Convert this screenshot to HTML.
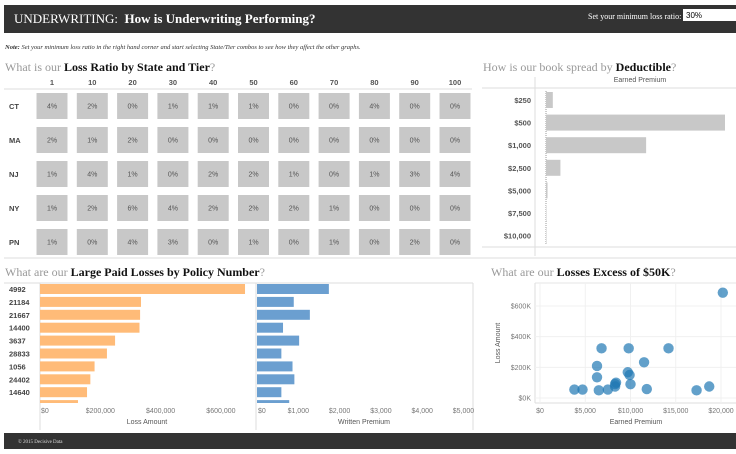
<!DOCTYPE html>
<html><head><meta charset="utf-8"><style>
html,body{margin:0;padding:0;background:#fff;width:736px;height:454px;overflow:hidden}
svg{display:block}
.sans{font-family:"Liberation Sans",sans-serif}
.serif{font-family:"Liberation Serif",serif}
</style></head><body>
<svg id="s" width="736" height="454" viewBox="0 0 736 454">
<rect x="4" y="5" width="732" height="28" fill="#333"/>
<text x="14" y="23" class="serif" font-size="13" fill="#fff">UNDERWRITING:&#160; <tspan font-weight="bold">How is Underwriting Performing?</tspan></text>
<text x="588" y="19" class="serif" font-size="8" fill="#fff">Set your minimum loss ratio:</text>
<rect x="683" y="9" width="53" height="12" fill="#fff"/>
<text x="686" y="18" class="sans" font-size="8" fill="#000">30%</text>
<text x="5" y="49" class="serif" font-size="6.5" font-style="italic" fill="#333"><tspan font-weight="bold">Note:</tspan> Set your minimum loss ratio in the right hand corner and start selecting State/Tier combos to see how they affect the other graphs.</text>
<text x="5" y="71" class="serif" font-size="12" fill="#999">What is our <tspan fill="#111" font-weight="bold">Loss Ratio by State and Tier</tspan>?</text>
<text x="483" y="71" class="serif" font-size="12" fill="#999">How is our book spread by <tspan fill="#111" font-weight="bold">Deductible</tspan>?</text>
<text x="5" y="276" class="serif" font-size="12" fill="#999">What are our <tspan fill="#111" font-weight="bold">Large Paid Losses by Policy Number</tspan>?</text>
<text x="491" y="276" class="serif" font-size="12" fill="#999">What are our <tspan fill="#111" font-weight="bold">Losses Excess of $50K</tspan>?</text>
<line x1="4" y1="258" x2="736" y2="258" stroke="#ddd"/>
<rect x="4" y="433" width="732" height="16" fill="#333"/>
<text x="18" y="443" class="serif" font-size="5" fill="#ddd">© 2015 Decisive Data</text>
<g id="heat"></g><g id="ded"></g><g id="loss"></g><g id="scat"></g>
</svg>
<script>
const NS='http://www.w3.org/2000/svg';
function mk(p,t,a,txt){const e=document.createElementNS(NS,t);for(const k in a)e.setAttribute(k,a[k]);if(txt!==undefined)e.textContent=txt;p.appendChild(e);return e;}
// heatmap data
const tiers=['1','10','20','30','40','50','60','70','80','90','100'];
const states=['CT','MA','NJ','NY','PN'];
const ratioCT=[4,2,0,1,1,1,0,0,4,0,0];
const ratioMA=[2,1,2,0,0,0,0,0,0,0,0];
const ratioNJ=[1,4,1,0,2,2,1,0,1,3,4];
const ratioNY=[1,2,6,4,2,2,2,1,0,0,0];
const ratioPN=[1,0,4,3,0,1,0,1,0,2,0];
// deductible data
const deductibles=['$250','$500','$1,000','$2,500','$5,000','$7,500','$10,000'];
const dedPremium=[45,1180,660,95,10,2,2];
// large losses data
const policies=['4992','21184','21667','14400','3637','28833','1056','24402','14640','10101'];
const lossAmt=[680000,335000,332000,330000,249000,222000,181000,167000,156000,126000];
const writtenPrem=[1740,890,1280,630,1020,590,860,905,590,780];
const lossTicks=[0,200000,400000,600000];
const lossTickLabels=['$0','$200,000','$400,000','$600,000'];
const premTicks=[0,1000,2000,3000,4000,5000];
const premTickLabels=['$0','$1,000','$2,000','$3,000','$4,000','$5,000'];
// scatter data
const scEarned=[20200,3800,4700,6500,7500,6300,6300,6800,8300,8400,8300,9800,9700,9900,10000,11500,11800,14200,17300,18700];
const scLoss=[687000,55000,55000,50000,55000,135000,209000,324000,91000,100000,75000,324000,168000,150000,90000,233000,58000,324000,50000,75000];
const scXTicks=[0,5000,10000,15000,20000];
const scXLabels=['$0','$5,000','$10,000','$15,000','$20,000'];
const scYTicks=[0,200000,400000,600000];
const scYLabels=['$0K','$200K','$400K','$600K'];

// heatmap
const H=document.getElementById('heat');
const rows=[ratioCT,ratioMA,ratioNJ,ratioNY,ratioPN];
const hx=i=>52+i*40.3, hy=j=>106+j*34;
mk(H,'line',{x1:4,y1:89,x2:472,y2:89,stroke:'#ddd',});
tiers.forEach((t,i)=>{const e=mk(H,'text',{x:hx(i),y:85,'text-anchor':'middle','font-size':7.5,'font-weight':'bold',fill:'#555',class:'sans'},t);

});
states.forEach((s,j)=>{const e=mk(H,'text',{x:9,y:hy(j)+3,'font-size':7.5,'font-weight':'bold',fill:'#444',class:'sans'},s);


rows[j].forEach((v,i)=>{const r=mk(H,'rect',{x:hx(i)-15.5,y:hy(j)-13,width:31,height:26,fill:'#c8c8c8'});


const tx=mk(H,'text',{x:hx(i),y:hy(j)+2.5,'text-anchor':'middle','font-size':7,fill:'#555',class:'sans'},v+'%');

});});

// deductible
const D=document.getElementById('ded');
const dx=v=>546+v*(179/1180), dy=j=>100+j*22.6;
mk(D,'text',{x:640,y:82,'text-anchor':'middle','font-size':7,fill:'#555',class:'sans',},'Earned Premium');
mk(D,'line',{x1:482,y1:88,x2:736,y2:88,stroke:'#ddd',});
mk(D,'line',{x1:482,y1:247,x2:736,y2:247,stroke:'#ddd',});
mk(D,'line',{x1:535,y1:77,x2:535,y2:256,stroke:'#ddd',});
mk(D,'line',{x1:546,y1:91,x2:546,y2:245,stroke:'#999','stroke-dasharray':'1,1',});
deductibles.forEach((d,j)=>{const t=mk(D,'text',{x:531,y:dy(j)+3,'text-anchor':'end','font-size':7.5,'font-weight':'bold',fill:'#555',class:'sans'},d);


const r=mk(D,'rect',{x:dx(0),y:dy(j)-8,width:Math.max(0.5,dx(dedPremium[j])-dx(0)),height:16,fill:'#c8c8c8'});

});

// large losses
const L=document.getElementById('loss');
const lx=v=>40+v*(60.3/200000), px=v=>257+v*(41.3/1000), ly=j=>289+j*12.9;
mk(L,'line',{x1:4,y1:283,x2:473,y2:283,stroke:'#ddd',});
mk(L,'line',{x1:40,y1:283,x2:40,y2:430,stroke:'#ddd',});
mk(L,'line',{x1:256,y1:283,x2:256,y2:430,stroke:'#ddd',});
mk(L,'line',{x1:473,y1:283,x2:473,y2:430,stroke:'#ddd',});
const clip=mk(L,'clipPath',{id:'lc'});mk(clip,'rect',{x:0,y:283,width:480,height:120});
const g=mk(L,'g',{'clip-path':'url(#lc)',});
policies.forEach((p,j)=>{const t=mk(g,'text',{x:9,y:ly(j)+3,'font-size':7.5,'font-weight':'bold',fill:'#444',class:'sans'},p);


const r=mk(g,'rect',{x:lx(0),y:ly(j)-5,width:lx(lossAmt[j])-lx(0),height:10,fill:'#ffbb78'});


const r2=mk(g,'rect',{x:px(0),y:ly(j)-5,width:px(writtenPrem[j])-px(0),height:10,fill:'#6b9fd0'});

});
lossTicks.forEach((v,i)=>{const t=mk(L,'text',{x:i==0?lx(v)+1:lx(v),y:413,'text-anchor':i==0?'start':'middle','font-size':7,fill:'#777',class:'sans'},lossTickLabels[i]);

});
premTicks.forEach((v,i)=>{const t=mk(L,'text',{x:i==0?px(v)+1:px(v),y:413,'text-anchor':i==0?'start':'middle','font-size':7,fill:'#777',class:'sans'},premTickLabels[i]);

});
mk(L,'text',{x:147,y:424,'text-anchor':'middle','font-size':7,fill:'#555',class:'sans',},'Loss Amount');
mk(L,'text',{x:364,y:424,'text-anchor':'middle','font-size':7,fill:'#555',class:'sans',},'Written Premium');

// scatter
const S=document.getElementById('scat');
const sx=v=>540+v*(9.05/1000), sy=v=>398-v*(15.33/100000);
mk(S,'line',{x1:535,y1:283,x2:736,y2:283,stroke:'#e5e5e5',});
mk(S,'line',{x1:535,y1:283,x2:535,y2:403,stroke:'#ddd',});
mk(S,'line',{x1:535,y1:403,x2:736,y2:403,stroke:'#ddd',});
scXTicks.forEach((v,i)=>{mk(S,'line',{x1:sx(v),y1:283,x2:sx(v),y2:403,stroke:'#f0f0f0'});
const t=mk(S,'text',{x:sx(v),y:413,'text-anchor':'middle','font-size':7,fill:'#777',class:'sans'},scXLabels[i]);

});
scYTicks.forEach((v,i)=>{mk(S,'line',{x1:535,y1:sy(v),x2:736,y2:sy(v),stroke:'#f0f0f0'});
const t=mk(S,'text',{x:531,y:sy(v)+2.5,'text-anchor':'end','font-size':7,fill:'#777',class:'sans'},scYLabels[i]);

});
mk(S,'text',{x:636,y:424,'text-anchor':'middle','font-size':7,fill:'#555',class:'sans',},'Earned Premium');
mk(S,'text',{x:0,y:0,transform:'translate(500,343) rotate(-90)','text-anchor':'middle','font-size':7,fill:'#555',class:'sans',},'Loss Amount');
scEarned.forEach((v,i)=>{const c=mk(S,'circle',{cx:sx(v),cy:sy(scLoss[i]),r:5.2,fill:'#1f77b4','fill-opacity':0.7});

});
</script>
</body></html>
